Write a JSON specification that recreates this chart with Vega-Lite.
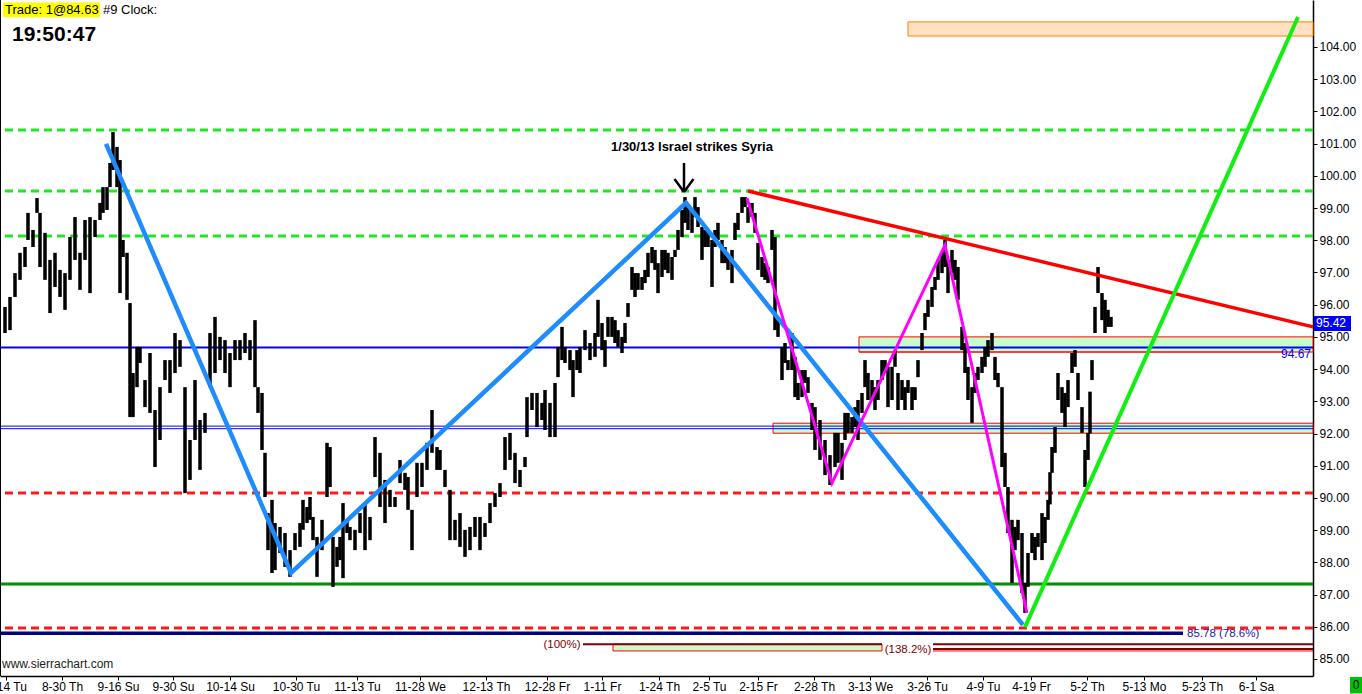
{
  "$schema": "https://vega.github.io/schema/vega-lite/v6.json",
  "width": 1313,
  "height": 676,
  "autosize": {"type": "none"},
  "padding": {"left": 0, "top": 0, "right": 49, "bottom": 18},
  "background": "white",
  "config": {
    "view": {"stroke": null},
    "font": "Liberation Sans",
    "axis": {"labelOverlap": false, "labelFlush": false, "grid": false, "labelFont": "Liberation Sans", "labelFontSize": 12, "labelColor": "#000000", "tickSize": 4, "tickColor": "#000000", "domainColor": "#000000", "domainWidth": 1.5}
  },
  "layer": [
    {
      "data": {"values": [{"x1": 908, "x2": 1313, "y1": 104.78, "y2": 104.34}]},
      "mark": {"type": "rect", "fill": "#ffe0c2", "stroke": "#ff8000", "strokeWidth": 1},
      "encoding": {
        "x": {"field": "x1", "type": "quantitative", "scale": {"domain": [0, 1313], "nice": false, "zero": false}, "axis": {"title": null}},
        "x2": {"field": "x2"},
        "y": {"field": "y1", "type": "quantitative", "scale": {"domain": [84.472, 105.459], "nice": false, "zero": false}, "axis": {"title": null, "orient": "right", "values": [85,86,87,88,89,90,91,92,93,94,95,96,97,98,99,100,101,102,103,104], "format": ".2f"}},
        "y2": {"field": "y2"}
      }
    },
    {
      "data": {"values": [
        {"x1": 859, "x2": 1313, "y1": 95.0, "y2": 94.53},
        {"x1": 773, "x2": 1313, "y1": 92.32, "y2": 92.01},
        {"x1": 613, "x2": 882, "y1": 85.46, "y2": 85.25}
      ]},
      "mark": {"type": "rect", "fill": "#c8fcc8", "stroke": "#ff0000", "strokeWidth": 1},
      "encoding": {
        "x": {"field": "x1", "type": "quantitative", "scale": {"domain": [0, 1313], "nice": false, "zero": false}, "axis": {"title": null}},
        "x2": {"field": "x2"},
        "y": {"field": "y1", "type": "quantitative", "scale": {"domain": [84.472, 105.459], "nice": false, "zero": false}, "axis": {"title": null, "orient": "right", "values": [85,86,87,88,89,90,91,92,93,94,95,96,97,98,99,100,101,102,103,104], "format": ".2f"}},
        "y2": {"field": "y2"}
      }
    },
    {
      "data": {"values": [{"p": 101.42}, {"p": 99.53}, {"p": 98.13}]},
      "mark": {"type": "rule", "color": "#22e622", "strokeWidth": 3, "strokeDash": [8, 5]},
      "encoding": {"y": {"field": "p", "type": "quantitative", "scale": {"domain": [84.472, 105.459], "nice": false, "zero": false}, "axis": {"title": null, "orient": "right", "values": [85,86,87,88,89,90,91,92,93,94,95,96,97,98,99,100,101,102,103,104], "format": ".2f"}}}
    },
    {
      "data": {"values": [{"p": 90.15}, {"p": 85.96}]},
      "mark": {"type": "rule", "color": "#ff1a1a", "strokeWidth": 3, "strokeDash": [8, 5]},
      "encoding": {"y": {"field": "p", "type": "quantitative", "scale": {"domain": [84.472, 105.459], "nice": false, "zero": false}, "axis": {"title": null, "orient": "right", "values": [85,86,87,88,89,90,91,92,93,94,95,96,97,98,99,100,101,102,103,104], "format": ".2f"}}}
    },
    {
      "data": {"values": [{"p": 94.67}]},
      "mark": {"type": "rule", "color": "#0000ff", "strokeWidth": 2},
      "encoding": {"y": {"field": "p", "type": "quantitative", "scale": {"domain": [84.472, 105.459], "nice": false, "zero": false}, "axis": {"title": null, "orient": "right", "values": [85,86,87,88,89,90,91,92,93,94,95,96,97,98,99,100,101,102,103,104], "format": ".2f"}}}
    },
    {
      "data": {"values": [{"p": 92.23}, {"p": 92.15}]},
      "mark": {"type": "rule", "color": "#0000ff", "strokeWidth": 1},
      "encoding": {"y": {"field": "p", "type": "quantitative", "scale": {"domain": [84.472, 105.459], "nice": false, "zero": false}, "axis": {"title": null, "orient": "right", "values": [85,86,87,88,89,90,91,92,93,94,95,96,97,98,99,100,101,102,103,104], "format": ".2f"}}}
    },
    {
      "data": {"values": [{"p": 87.33}]},
      "mark": {"type": "rule", "color": "#008f00", "strokeWidth": 3},
      "encoding": {"y": {"field": "p", "type": "quantitative", "scale": {"domain": [84.472, 105.459], "nice": false, "zero": false}, "axis": {"title": null, "orient": "right", "values": [85,86,87,88,89,90,91,92,93,94,95,96,97,98,99,100,101,102,103,104], "format": ".2f"}}}
    },
    {
      "data": {"values": [{"x1": 0, "x2": 1183, "p": 85.8}]},
      "mark": {"type": "rule", "color": "#000080", "strokeWidth": 3.5},
      "encoding": {
        "x": {"field": "x1", "type": "quantitative", "scale": {"domain": [0, 1313], "nice": false, "zero": false}, "axis": {"title": null}},
        "x2": {"field": "x2"},
        "y": {"field": "p", "type": "quantitative", "scale": {"domain": [84.472, 105.459], "nice": false, "zero": false}, "axis": {"title": null, "orient": "right", "values": [85,86,87,88,89,90,91,92,93,94,95,96,97,98,99,100,101,102,103,104], "format": ".2f"}}
      }
    },
    {
      "data": {"values": [{"x1": 583, "x2": 882, "p": 85.46}, {"x1": 933, "x2": 1313, "p": 85.46}, {"x1": 933, "x2": 1313, "p": 85.31}]},
      "mark": {"type": "rule", "color": "#800000", "strokeWidth": 2},
      "encoding": {
        "x": {"field": "x1", "type": "quantitative", "scale": {"domain": [0, 1313], "nice": false, "zero": false}, "axis": {"title": null}},
        "x2": {"field": "x2"},
        "y": {"field": "p", "type": "quantitative", "scale": {"domain": [84.472, 105.459], "nice": false, "zero": false}, "axis": {"title": null, "orient": "right", "values": [85,86,87,88,89,90,91,92,93,94,95,96,97,98,99,100,101,102,103,104], "format": ".2f"}}
      }
    },
    {
      "data": {"values": [{"x1": 933, "x2": 1313, "p": 85.25}, {"x1": 859, "x2": 1283, "p": 94.53}]},
      "mark": {"type": "rule", "color": "#ff0000", "strokeWidth": 1},
      "encoding": {
        "x": {"field": "x1", "type": "quantitative", "scale": {"domain": [0, 1313], "nice": false, "zero": false}, "axis": {"title": null}},
        "x2": {"field": "x2"},
        "y": {"field": "p", "type": "quantitative", "scale": {"domain": [84.472, 105.459], "nice": false, "zero": false}, "axis": {"title": null, "orient": "right", "values": [85,86,87,88,89,90,91,92,93,94,95,96,97,98,99,100,101,102,103,104], "format": ".2f"}}
      }
    },
    {
      "data": {"values": [
        {"x":5,"h":95.93,"l":95.12},{"x":10,"h":96.24,"l":95.21},{"x":15,"h":96.98,"l":96.24},{"x":20,"h":97.61,"l":96.77},{"x":25,"h":97.79,"l":97.17},{"x":28,"h":98.85,"l":98.01},{"x":33,"h":98.32,"l":97.79},{"x":37,"h":99.31,"l":98.85},{"x":40,"h":98.85,"l":97.17},{"x":45,"h":98.23,"l":96.77},{"x":50,"h":97.39,"l":95.74},{"x":55,"h":97.61,"l":96.55},{"x":60,"h":97.08,"l":96.24},{"x":65,"h":96.98,"l":95.84},{"x":70,"h":98.10,"l":96.77},{"x":75,"h":98.72,"l":97.39},{"x":80,"h":97.61,"l":96.46},{"x":85,"h":98.63,"l":97.39},{"x":90,"h":98.72,"l":96.36},{"x":95,"h":98.63,"l":98.10},{"x":100,"h":99.16,"l":98.63},{"x":103,"h":99.65,"l":98.85},{"x":107,"h":99.65,"l":98.94},{"x":110,"h":100.40,"l":99.65},{"x":113,"h":101.36,"l":100.18},{"x":117,"h":100.90,"l":99.65},{"x":120,"h":100.49,"l":96.36},{"x":123,"h":98.01,"l":97.48},{"x":127,"h":97.61,"l":96.15},{"x":130,"h":96.05,"l":92.51},{"x":133,"h":93.88,"l":92.51},{"x":137,"h":94.69,"l":93.44},{"x":140,"h":94.69,"l":94.19},{"x":145,"h":93.66,"l":92.82},{"x":150,"h":94.50,"l":92.64},{"x":155,"h":92.73,"l":90.96},{"x":160,"h":93.44,"l":91.80},{"x":165,"h":94.28,"l":93.66},{"x":170,"h":94.28,"l":93.26},{"x":175,"h":95.12,"l":93.88},{"x":180,"h":94.90,"l":94.07},{"x":185,"h":93.44,"l":90.15},{"x":190,"h":91.80,"l":90.56},{"x":195,"h":93.66,"l":91.80},{"x":200,"h":92.42,"l":90.87},{"x":205,"h":92.64,"l":92.02},{"x":210,"h":95.12,"l":93.44},{"x":215,"h":95.62,"l":93.88},{"x":220,"h":95.00,"l":94.28},{"x":225,"h":94.90,"l":93.88},{"x":230,"h":94.50,"l":93.44},{"x":235,"h":94.90,"l":94.28},{"x":240,"h":94.90,"l":94.28},{"x":245,"h":95.12,"l":94.50},{"x":250,"h":94.90,"l":94.28},{"x":255,"h":95.52,"l":93.44},{"x":258,"h":93.44,"l":92.64},{"x":262,"h":93.26,"l":91.49},{"x":265,"h":91.40,"l":90.03},{"x":268,"h":89.53,"l":88.38},{"x":272,"h":89.94,"l":87.67},{"x":275,"h":89.22,"l":87.76},{"x":280,"h":89.10,"l":88.29},{"x":285,"h":88.91,"l":87.86},{"x":290,"h":88.38,"l":87.55},{"x":295,"h":88.91,"l":88.38},{"x":300,"h":89.22,"l":88.48},{"x":303,"h":89.94,"l":89.01},{"x":307,"h":89.72,"l":89.22},{"x":310,"h":90.03,"l":89.32},{"x":313,"h":89.41,"l":88.69},{"x":317,"h":88.79,"l":87.55},{"x":322,"h":89.32,"l":88.38},{"x":327,"h":91.71,"l":90.03},{"x":330,"h":91.58,"l":90.34},{"x":333,"h":88.79,"l":87.24},{"x":337,"h":88.48,"l":87.86},{"x":340,"h":88.79,"l":88.07},{"x":343,"h":89.84,"l":87.51},{"x":347,"h":89.32,"l":88.91},{"x":350,"h":89.10,"l":88.69},{"x":355,"h":89.01,"l":88.38},{"x":360,"h":89.53,"l":88.91},{"x":365,"h":89.84,"l":88.38},{"x":370,"h":89.41,"l":88.69},{"x":375,"h":91.89,"l":90.65},{"x":380,"h":91.40,"l":89.72},{"x":385,"h":90.56,"l":89.22},{"x":390,"h":90.25,"l":89.72},{"x":395,"h":90.03,"l":89.72},{"x":400,"h":91.18,"l":90.46},{"x":405,"h":90.78,"l":90.25},{"x":408,"h":90.65,"l":89.63},{"x":412,"h":89.63,"l":88.38},{"x":417,"h":91.09,"l":90.03},{"x":422,"h":91.09,"l":90.34},{"x":427,"h":91.71,"l":90.87},{"x":432,"h":92.73,"l":91.40},{"x":437,"h":91.58,"l":90.87},{"x":440,"h":91.49,"l":90.87},{"x":445,"h":90.87,"l":90.34},{"x":450,"h":90.25,"l":88.69},{"x":455,"h":89.32,"l":88.69},{"x":460,"h":89.53,"l":88.48},{"x":465,"h":89.01,"l":88.17},{"x":470,"h":89.10,"l":88.38},{"x":475,"h":89.41,"l":88.79},{"x":480,"h":89.41,"l":88.38},{"x":485,"h":89.22,"l":88.79},{"x":490,"h":89.84,"l":89.22},{"x":495,"h":90.15,"l":89.72},{"x":500,"h":90.46,"l":90.03},{"x":505,"h":91.89,"l":90.87},{"x":510,"h":92.02,"l":91.18},{"x":515,"h":91.40,"l":90.46},{"x":520,"h":90.87,"l":90.34},{"x":525,"h":91.27,"l":90.96},{"x":527,"h":93.13,"l":91.89},{"x":532,"h":93.26,"l":92.73},{"x":537,"h":93.26,"l":92.20},{"x":542,"h":92.95,"l":92.42},{"x":545,"h":93.35,"l":92.11},{"x":550,"h":92.95,"l":91.89},{"x":555,"h":93.57,"l":91.89},{"x":558,"h":94.69,"l":93.75},{"x":562,"h":95.31,"l":94.28},{"x":565,"h":94.69,"l":94.19},{"x":570,"h":94.59,"l":93.97},{"x":573,"h":94.28,"l":93.13},{"x":577,"h":94.59,"l":93.97},{"x":580,"h":94.69,"l":93.88},{"x":585,"h":95.21,"l":94.59},{"x":590,"h":94.81,"l":94.28},{"x":595,"h":95.12,"l":94.38},{"x":598,"h":96.15,"l":95.00},{"x":602,"h":95.43,"l":94.59},{"x":605,"h":94.90,"l":94.07},{"x":608,"h":95.62,"l":95.00},{"x":612,"h":95.62,"l":95.00},{"x":615,"h":95.52,"l":94.81},{"x":618,"h":95.21,"l":94.69},{"x":622,"h":95.00,"l":94.50},{"x":625,"h":95.43,"l":94.81},{"x":628,"h":96.05,"l":95.62},{"x":632,"h":97.17,"l":96.46},{"x":635,"h":96.98,"l":96.24},{"x":638,"h":96.98,"l":96.46},{"x":642,"h":96.86,"l":96.46},{"x":645,"h":97.08,"l":96.67},{"x":648,"h":97.61,"l":96.86},{"x":652,"h":97.79,"l":97.29},{"x":655,"h":97.70,"l":97.08},{"x":658,"h":97.29,"l":96.36},{"x":662,"h":97.70,"l":96.86},{"x":665,"h":97.70,"l":97.08},{"x":668,"h":97.61,"l":96.98},{"x":672,"h":97.48,"l":96.77},{"x":675,"h":97.70,"l":97.48},{"x":678,"h":98.32,"l":97.70},{"x":682,"h":98.94,"l":98.10},{"x":685,"h":99.34,"l":98.54},{"x":688,"h":99.03,"l":98.32},{"x":692,"h":98.94,"l":98.23},{"x":695,"h":99.34,"l":98.72},{"x":698,"h":99.03,"l":98.41},{"x":702,"h":98.41,"l":97.39},{"x":705,"h":98.32,"l":97.79},{"x":708,"h":98.32,"l":97.79},{"x":712,"h":98.01,"l":96.55},{"x":715,"h":98.32,"l":97.79},{"x":718,"h":98.54,"l":98.01},{"x":722,"h":98.01,"l":97.29},{"x":725,"h":97.79,"l":97.29},{"x":728,"h":97.48,"l":97.08},{"x":732,"h":97.70,"l":96.67},{"x":735,"h":98.54,"l":98.01},{"x":738,"h":98.85,"l":98.32},{"x":742,"h":99.34,"l":98.85},{"x":745,"h":99.34,"l":99.03},{"x":748,"h":99.03,"l":98.54},{"x":752,"h":99.16,"l":98.72},{"x":755,"h":98.85,"l":98.23},{"x":758,"h":97.92,"l":97.08},{"x":762,"h":97.48,"l":96.86},{"x":765,"h":97.29,"l":96.77},{"x":768,"h":97.17,"l":96.67},{"x":772,"h":98.32,"l":97.70},{"x":775,"h":98.10,"l":95.21},{"x":778,"h":95.52,"l":95.00},{"x":782,"h":94.69,"l":93.66},{"x":785,"h":94.81,"l":94.19},{"x":788,"h":94.28,"l":93.97},{"x":792,"h":95.12,"l":93.97},{"x":795,"h":94.38,"l":93.13},{"x":798,"h":93.57,"l":93.04},{"x":802,"h":93.97,"l":93.13},{"x":805,"h":93.97,"l":93.57},{"x":808,"h":93.75,"l":93.26},{"x":812,"h":92.95,"l":92.11},{"x":815,"h":92.82,"l":91.49},{"x":820,"h":92.42,"l":91.18},{"x":825,"h":91.80,"l":90.71},{"x":830,"h":91.33,"l":90.40},{"x":835,"h":92.02,"l":90.96},{"x":838,"h":92.02,"l":91.09},{"x":842,"h":91.71,"l":90.56},{"x":845,"h":92.64,"l":91.80},{"x":848,"h":92.64,"l":92.02},{"x":852,"h":92.51,"l":92.02},{"x":855,"h":92.82,"l":92.20},{"x":858,"h":93.04,"l":91.80},{"x":862,"h":93.26,"l":92.64},{"x":865,"h":94.28,"l":93.44},{"x":868,"h":93.88,"l":93.04},{"x":872,"h":93.66,"l":93.04},{"x":875,"h":93.44,"l":92.73},{"x":878,"h":93.66,"l":93.04},{"x":882,"h":94.28,"l":93.66},{"x":885,"h":94.28,"l":93.88},{"x":888,"h":94.07,"l":92.82},{"x":892,"h":94.07,"l":93.04},{"x":895,"h":94.59,"l":94.07},{"x":898,"h":93.88,"l":92.73},{"x":902,"h":93.66,"l":93.04},{"x":905,"h":93.44,"l":92.73},{"x":908,"h":93.66,"l":93.26},{"x":912,"h":93.44,"l":92.73},{"x":915,"h":93.44,"l":93.04},{"x":918,"h":94.28,"l":93.75},{"x":922,"h":95.12,"l":94.59},{"x":925,"h":95.74,"l":95.21},{"x":928,"h":96.15,"l":95.62},{"x":932,"h":96.55,"l":95.93},{"x":935,"h":96.86,"l":96.46},{"x":938,"h":97.39,"l":96.77},{"x":942,"h":97.61,"l":96.98},{"x":945,"h":98.01,"l":97.17},{"x":948,"h":97.39,"l":96.36},{"x":952,"h":97.70,"l":96.98},{"x":955,"h":97.39,"l":96.77},{"x":958,"h":97.17,"l":96.15},{"x":962,"h":95.31,"l":94.59},{"x":965,"h":94.81,"l":93.88},{"x":968,"h":94.07,"l":93.04},{"x":972,"h":93.44,"l":92.33},{"x":975,"h":93.88,"l":93.26},{"x":978,"h":94.07,"l":93.66},{"x":982,"h":94.38,"l":93.88},{"x":985,"h":94.69,"l":94.07},{"x":988,"h":94.90,"l":94.38},{"x":992,"h":95.12,"l":94.59},{"x":995,"h":94.38,"l":93.66},{"x":998,"h":93.88,"l":93.44},{"x":1002,"h":93.44,"l":90.96},{"x":1005,"h":91.40,"l":90.34},{"x":1008,"h":90.34,"l":88.91},{"x":1012,"h":89.32,"l":87.36},{"x":1015,"h":89.10,"l":88.38},{"x":1018,"h":89.32,"l":88.69},{"x":1022,"h":88.91,"l":87.05},{"x":1025,"h":87.36,"l":86.43},{"x":1028,"h":88.29,"l":87.24},{"x":1032,"h":88.91,"l":88.29},{"x":1035,"h":88.79,"l":88.07},{"x":1038,"h":88.91,"l":88.48},{"x":1042,"h":89.53,"l":88.07},{"x":1045,"h":89.41,"l":88.60},{"x":1048,"h":89.94,"l":89.32},{"x":1050,"h":90.80,"l":89.80},{"x":1052,"h":91.58,"l":90.78},{"x":1055,"h":92.20,"l":91.40},{"x":1058,"h":93.88,"l":93.04},{"x":1062,"h":93.44,"l":92.64},{"x":1065,"h":93.26,"l":92.20},{"x":1068,"h":93.66,"l":92.82},{"x":1072,"h":94.50,"l":93.88},{"x":1075,"h":94.59,"l":94.07},{"x":1078,"h":93.88,"l":93.04},{"x":1082,"h":92.82,"l":92.02},{"x":1085,"h":91.49,"l":90.34},{"x":1088,"h":92.02,"l":91.18},{"x":1090,"h":93.30,"l":92.00},{"x":1092,"h":94.28,"l":93.66},{"x":1095,"h":95.93,"l":95.12},{"x":1098,"h":97.17,"l":96.36},{"x":1102,"h":96.36,"l":95.52},{"x":1105,"h":96.15,"l":95.12},{"x":1108,"h":95.84,"l":95.31},{"x":1111,"h":95.62,"l":95.31}
      ]},
      "mark": {"type": "rule", "color": "#000000", "strokeWidth": 3.5},
      "encoding": {
        "x": {
          "field": "x", "type": "quantitative",
          "scale": {"domain": [0, 1313], "nice": false, "zero": false},
          "axis": {
            "orient": "bottom", "title": null,
            "values": [6, 62, 118, 173, 230, 296, 357, 420, 486, 547, 602, 659, 709, 758, 814, 870, 927, 983, 1031, 1087, 1144, 1202, 1256],
            "labelExpr": "['8-14 Tu','8-30 Th','9-16 Su','9-30 Su','10-14 Su','10-30 Tu','11-13 Tu','11-28 We','12-13 Th','12-28 Fr','1-11 Fr','1-24 Th','2-5 Tu','2-15 Fr','2-28 Th','3-13 We','3-26 Tu','4-9 Tu','4-19 Fr','5-2 Th','5-13 Mo','5-23 Th','6-1 Sa'][indexof([6,62,118,173,230,296,357,420,486,547,602,659,709,758,814,870,927,983,1031,1087,1144,1202,1256], datum.value)]",
            "labelPadding": 1
          }
        },
        "y": {
          "field": "h", "type": "quantitative",
          "scale": {"domain": [84.472, 105.459], "nice": false, "zero": false},
          "axis": {"title": null, "orient": "right", "values": [85,86,87,88,89,90,91,92,93,94,95,96,97,98,99,100,101,102,103,104], "format": ".2f", "labelPadding": 2}
        },
        "y2": {"field": "l"}
      }
    },
    {
      "data": {"values": [{"x": 106, "p": 100.99}, {"x": 291, "p": 87.67}, {"x": 686, "p": 99.16}, {"x": 1023, "p": 86.06}]},
      "mark": {"type": "line", "color": "#1e8cff", "strokeWidth": 4.5},
      "encoding": {
        "x": {"field": "x", "type": "quantitative", "scale": {"domain": [0, 1313], "nice": false, "zero": false}, "axis": {"title": null}},
        "y": {"field": "p", "type": "quantitative", "scale": {"domain": [84.472, 105.459], "nice": false, "zero": false}, "axis": {"title": null, "orient": "right", "values": [85,86,87,88,89,90,91,92,93,94,95,96,97,98,99,100,101,102,103,104], "format": ".2f"}}
      }
    },
    {
      "data": {"values": [{"x": 747, "p": 99.31}, {"x": 832, "p": 90.46}, {"x": 945, "p": 97.85}, {"x": 1027, "p": 86.43}]},
      "mark": {"type": "line", "color": "#ff00ff", "strokeWidth": 3},
      "encoding": {
        "x": {"field": "x", "type": "quantitative", "scale": {"domain": [0, 1313], "nice": false, "zero": false}, "axis": {"title": null}},
        "y": {"field": "p", "type": "quantitative", "scale": {"domain": [84.472, 105.459], "nice": false, "zero": false}, "axis": {"title": null, "orient": "right", "values": [85,86,87,88,89,90,91,92,93,94,95,96,97,98,99,100,101,102,103,104], "format": ".2f"}}
      }
    },
    {
      "data": {"values": [{"x": 748, "p": 99.53}, {"x": 1313, "p": 95.31}]},
      "mark": {"type": "line", "color": "#ff0000", "strokeWidth": 3.5},
      "encoding": {
        "x": {"field": "x", "type": "quantitative", "scale": {"domain": [0, 1313], "nice": false, "zero": false}, "axis": {"title": null}},
        "y": {"field": "p", "type": "quantitative", "scale": {"domain": [84.472, 105.459], "nice": false, "zero": false}, "axis": {"title": null, "orient": "right", "values": [85,86,87,88,89,90,91,92,93,94,95,96,97,98,99,100,101,102,103,104], "format": ".2f"}}
      }
    },
    {
      "data": {"values": [{"x": 1025, "p": 85.99}, {"x": 1298, "p": 104.93}]},
      "mark": {"type": "line", "color": "#11ee11", "strokeWidth": 4},
      "encoding": {
        "x": {"field": "x", "type": "quantitative", "scale": {"domain": [0, 1313], "nice": false, "zero": false}, "axis": {"title": null}},
        "y": {"field": "p", "type": "quantitative", "scale": {"domain": [84.472, 105.459], "nice": false, "zero": false}, "axis": {"title": null, "orient": "right", "values": [85,86,87,88,89,90,91,92,93,94,95,96,97,98,99,100,101,102,103,104], "format": ".2f"}}
      }
    },
    {
      "data": {"values": [{"x1": 684, "x2": 684, "y1": 100.4, "y2": 99.5}, {"x1": 674.5, "x2": 684, "y1": 99.9, "y2": 99.5}, {"x1": 693.5, "x2": 684, "y1": 99.9, "y2": 99.5}]},
      "mark": {"type": "rule", "color": "#000000", "strokeWidth": 2.5},
      "encoding": {
        "x": {"field": "x1", "type": "quantitative", "scale": {"domain": [0, 1313], "nice": false, "zero": false}, "axis": {"title": null}},
        "x2": {"field": "x2"},
        "y": {"field": "y1", "type": "quantitative", "scale": {"domain": [84.472, 105.459], "nice": false, "zero": false}, "axis": {"title": null, "orient": "right", "values": [85,86,87,88,89,90,91,92,93,94,95,96,97,98,99,100,101,102,103,104], "format": ".2f"}},
        "y2": {"field": "y2"}
      }
    },
    {
      "data": {"values": [{}]},
      "mark": {"type": "rule", "color": "#000000", "strokeWidth": 2},
      "encoding": {"x": {"datum": 0, "type": "quantitative", "scale": {"domain": [0, 1313], "nice": false, "zero": false}, "axis": {"title": null}}}
    },
    {
      "data": {"values": [{}]},
      "mark": {"type": "text", "text": "1/30/13 Israel strikes Syria", "font": "Liberation Sans", "fontSize": 13, "fontWeight": "bold", "align": "center", "baseline": "middle", "color": "#000000"},
      "encoding": {
        "x": {"datum": 692, "type": "quantitative", "scale": {"domain": [0, 1313], "nice": false, "zero": false}, "axis": {"title": null}},
        "y": {"datum": 100.89, "type": "quantitative", "scale": {"domain": [84.472, 105.459], "nice": false, "zero": false}, "axis": {"title": null, "orient": "right", "values": [85,86,87,88,89,90,91,92,93,94,95,96,97,98,99,100,101,102,103,104], "format": ".2f"}}
      }
    },
    {
      "data": {"values": [{}]},
      "mark": {"type": "text", "text": "(100%)", "font": "Liberation Sans", "fontSize": 11.5, "align": "center", "baseline": "middle", "color": "#800000"},
      "encoding": {
        "x": {"datum": 562, "type": "quantitative", "scale": {"domain": [0, 1313], "nice": false, "zero": false}, "axis": {"title": null}},
        "y": {"datum": 85.44, "type": "quantitative", "scale": {"domain": [84.472, 105.459], "nice": false, "zero": false}, "axis": {"title": null, "orient": "right", "values": [85,86,87,88,89,90,91,92,93,94,95,96,97,98,99,100,101,102,103,104], "format": ".2f"}}
      }
    },
    {
      "data": {"values": [{}]},
      "mark": {"type": "text", "text": "(138.2%)", "font": "Liberation Sans", "fontSize": 11.5, "align": "center", "baseline": "middle", "color": "#800000"},
      "encoding": {
        "x": {"datum": 908, "type": "quantitative", "scale": {"domain": [0, 1313], "nice": false, "zero": false}, "axis": {"title": null}},
        "y": {"datum": 85.28, "type": "quantitative", "scale": {"domain": [84.472, 105.459], "nice": false, "zero": false}, "axis": {"title": null, "orient": "right", "values": [85,86,87,88,89,90,91,92,93,94,95,96,97,98,99,100,101,102,103,104], "format": ".2f"}}
      }
    },
    {
      "data": {"values": [{}]},
      "mark": {"type": "text", "text": "85.78  (78.6%)", "font": "Liberation Sans", "fontSize": 11.5, "align": "left", "baseline": "middle", "color": "#1a1aa6"},
      "encoding": {
        "x": {"datum": 1187, "type": "quantitative", "scale": {"domain": [0, 1313], "nice": false, "zero": false}, "axis": {"title": null}},
        "y": {"datum": 85.77, "type": "quantitative", "scale": {"domain": [84.472, 105.459], "nice": false, "zero": false}, "axis": {"title": null, "orient": "right", "values": [85,86,87,88,89,90,91,92,93,94,95,96,97,98,99,100,101,102,103,104], "format": ".2f"}}
      }
    },
    {
      "data": {"values": [{}]},
      "mark": {"type": "text", "text": "94.67", "font": "Liberation Sans", "fontSize": 12, "align": "right", "baseline": "middle", "color": "#0000ff"},
      "encoding": {
        "x": {"datum": 1311, "type": "quantitative", "scale": {"domain": [0, 1313], "nice": false, "zero": false}, "axis": {"title": null}},
        "y": {"datum": 94.47, "type": "quantitative", "scale": {"domain": [84.472, 105.459], "nice": false, "zero": false}, "axis": {"title": null, "orient": "right", "values": [85,86,87,88,89,90,91,92,93,94,95,96,97,98,99,100,101,102,103,104], "format": ".2f"}}
      }
    },
    {
      "data": {"values": [{}]},
      "mark": {"type": "rect", "fill": "#0000ff", "clip": false},
      "encoding": {
        "x": {"datum": 1314, "type": "quantitative", "scale": {"domain": [0, 1313], "nice": false, "zero": false}, "axis": {"title": null}},
        "x2": {"datum": 1351},
        "y": {"datum": 95.65, "type": "quantitative", "scale": {"domain": [84.472, 105.459], "nice": false, "zero": false}, "axis": {"title": null, "orient": "right", "values": [85,86,87,88,89,90,91,92,93,94,95,96,97,98,99,100,101,102,103,104], "format": ".2f"}},
        "y2": {"datum": 95.18}
      }
    },
    {
      "data": {"values": [{}]},
      "mark": {"type": "text", "text": "95.42", "font": "Liberation Sans", "fontSize": 12, "align": "left", "baseline": "middle", "color": "#ffffff"},
      "encoding": {
        "x": {"datum": 1316, "type": "quantitative", "scale": {"domain": [0, 1313], "nice": false, "zero": false}, "axis": {"title": null}},
        "y": {"datum": 95.42, "type": "quantitative", "scale": {"domain": [84.472, 105.459], "nice": false, "zero": false}, "axis": {"title": null, "orient": "right", "values": [85,86,87,88,89,90,91,92,93,94,95,96,97,98,99,100,101,102,103,104], "format": ".2f"}}
      }
    },
    {
      "data": {"values": [{}]},
      "mark": {"type": "rect", "fill": "#00c000"},
      "encoding": {
        "x": {"datum": 1350, "type": "quantitative", "scale": {"domain": [0, 1313], "nice": false, "zero": false}, "axis": {"title": null}},
        "x2": {"datum": 1362},
        "y": {"datum": 84.44, "type": "quantitative", "scale": {"domain": [84.472, 105.459], "nice": false, "zero": false}, "axis": {"title": null, "orient": "right", "values": [85,86,87,88,89,90,91,92,93,94,95,96,97,98,99,100,101,102,103,104], "format": ".2f"}},
        "y2": {"datum": 83.93}
      }
    },
    {
      "data": {"values": [{}]},
      "mark": {"type": "text", "text": "0", "font": "Liberation Sans", "fontSize": 12, "align": "center", "baseline": "middle", "color": "#000000"},
      "encoding": {
        "x": {"datum": 1356, "type": "quantitative", "scale": {"domain": [0, 1313], "nice": false, "zero": false}, "axis": {"title": null}},
        "y": {"datum": 84.18, "type": "quantitative", "scale": {"domain": [84.472, 105.459], "nice": false, "zero": false}, "axis": {"title": null, "orient": "right", "values": [85,86,87,88,89,90,91,92,93,94,95,96,97,98,99,100,101,102,103,104], "format": ".2f"}}
      }
    },
    {
      "data": {"values": [{}]},
      "mark": {"type": "rect", "fill": "#ffff00"},
      "encoding": {
        "x": {"datum": 3, "type": "quantitative", "scale": {"domain": [0, 1313], "nice": false, "zero": false}, "axis": {"title": null}},
        "x2": {"datum": 100},
        "y": {"datum": 105.38, "type": "quantitative", "scale": {"domain": [84.472, 105.459], "nice": false, "zero": false}, "axis": {"title": null, "orient": "right", "values": [85,86,87,88,89,90,91,92,93,94,95,96,97,98,99,100,101,102,103,104], "format": ".2f"}},
        "y2": {"datum": 104.92}
      }
    },
    {
      "data": {"values": [{}]},
      "mark": {"type": "text", "text": "Trade: 1@84.63", "font": "Liberation Sans", "fontSize": 13, "align": "left", "baseline": "middle", "color": "#000000"},
      "encoding": {
        "x": {"datum": 5, "type": "quantitative", "scale": {"domain": [0, 1313], "nice": false, "zero": false}, "axis": {"title": null}},
        "y": {"datum": 105.15, "type": "quantitative", "scale": {"domain": [84.472, 105.459], "nice": false, "zero": false}, "axis": {"title": null, "orient": "right", "values": [85,86,87,88,89,90,91,92,93,94,95,96,97,98,99,100,101,102,103,104], "format": ".2f"}}
      }
    },
    {
      "data": {"values": [{}]},
      "mark": {"type": "text", "text": "#9  Clock:", "font": "Liberation Sans", "fontSize": 13, "align": "left", "baseline": "middle", "color": "#000000"},
      "encoding": {
        "x": {"datum": 103, "type": "quantitative", "scale": {"domain": [0, 1313], "nice": false, "zero": false}, "axis": {"title": null}},
        "y": {"datum": 105.15, "type": "quantitative", "scale": {"domain": [84.472, 105.459], "nice": false, "zero": false}, "axis": {"title": null, "orient": "right", "values": [85,86,87,88,89,90,91,92,93,94,95,96,97,98,99,100,101,102,103,104], "format": ".2f"}}
      }
    },
    {
      "data": {"values": [{}]},
      "mark": {"type": "text", "text": "19:50:47", "font": "Liberation Sans", "fontSize": 21, "fontWeight": "bold", "align": "left", "baseline": "middle", "color": "#000000"},
      "encoding": {
        "x": {"datum": 12, "type": "quantitative", "scale": {"domain": [0, 1313], "nice": false, "zero": false}, "axis": {"title": null}},
        "y": {"datum": 104.37, "type": "quantitative", "scale": {"domain": [84.472, 105.459], "nice": false, "zero": false}, "axis": {"title": null, "orient": "right", "values": [85,86,87,88,89,90,91,92,93,94,95,96,97,98,99,100,101,102,103,104], "format": ".2f"}}
      }
    },
    {
      "data": {"values": [{}]},
      "mark": {"type": "text", "text": "www.sierrachart.com", "font": "Liberation Sans", "fontSize": 12, "align": "left", "baseline": "middle", "color": "#222222"},
      "encoding": {
        "x": {"datum": 2, "type": "quantitative", "scale": {"domain": [0, 1313], "nice": false, "zero": false}, "axis": {"title": null}},
        "y": {"datum": 84.85, "type": "quantitative", "scale": {"domain": [84.472, 105.459], "nice": false, "zero": false}, "axis": {"title": null, "orient": "right", "values": [85,86,87,88,89,90,91,92,93,94,95,96,97,98,99,100,101,102,103,104], "format": ".2f"}}
      }
    }
  ]
}
